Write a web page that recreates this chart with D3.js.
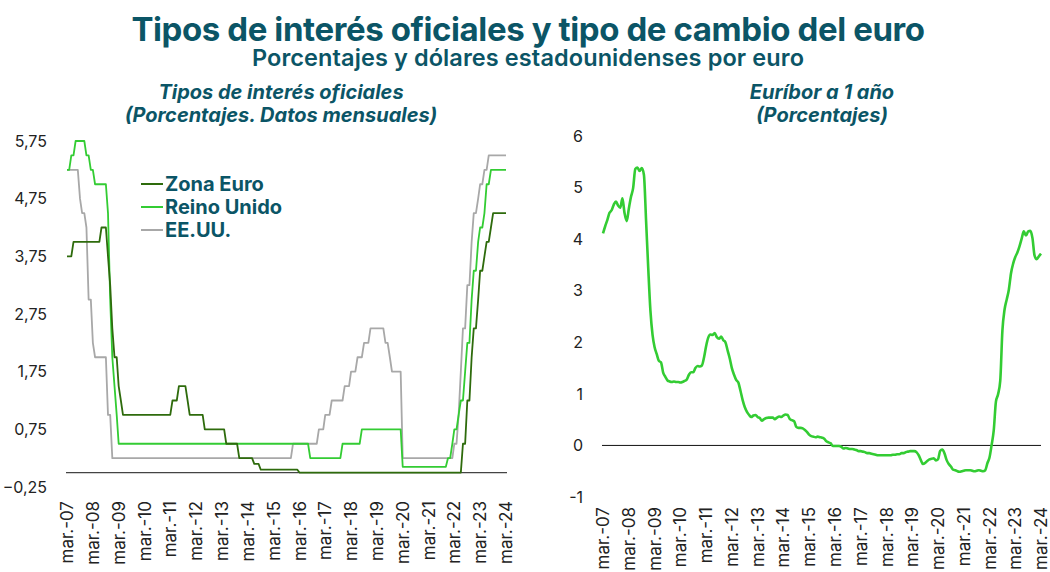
<!DOCTYPE html>
<html>
<head>
<meta charset="utf-8">
<script src="https://cdn.jsdelivr.net/npm/d3@7"></script>
<style>
  body { margin: 0; background: #fff; }
  text { font-family: Inter, "Noto Sans", sans-serif; }
</style>
</head>
<body>
<svg id="chart"></svg>
<script>
// monthly values, mar-07 .. mar-24 (end of month)
const zonaEuro = [
  3.75,3.75,3.75,4,4,4,4,4,4,4,
  4,4,4,4,4,4,4.25,4.25,4.25,3.75,3.25,2.5,
  2,2,1.5,1.25,1,1,1,1,1,1,1,1,
  1,1,1,1,1,1,1,1,1,1,1,1,
  1,1,1,1.25,1.25,1.25,1.5,1.5,1.5,1.5,1.25,1,
  1,1,1,1,1,1,0.75,0.75,0.75,0.75,0.75,0.75,
  0.75,0.75,0.75,0.75,0.5,0.5,0.5,0.5,0.5,0.5,0.25,0.25,
  0.25,0.25,0.25,0.25,0.25,0.15,0.15,0.15,0.05,0.05,0.05,0.05,
  0.05,0.05,0.05,0.05,0.05,0.05,0.05,0.05,0.05,0.05,0.05,0.05,
  0.05,0.05,0,0,0,0,0,0,0,0,0,0,
  0,0,0,0,0,0,0,0,0,0,0,0,
  0,0,0,0,0,0,0,0,0,0,0,0,
  0,0,0,0,0,0,0,0,0,0,0,0,
  0,0,0,0,0,0,0,0,0,0,0,0,
  0,0,0,0,0,0,0,0,0,0,0,0,
  0,0,0,0,0,0,0.5,0.5,1.25,1.25,2,2.5,
  2.5,3,3.5,3.5,3.75,4,4,4.25,4.5,4.5,4.5,4.5,
  4.5,4.5,4.5
];
const reinoUnido = [
  5.25,5.25,5.5,5.5,5.75,5.75,5.75,5.75,5.75,5.5,
  5.5,5.25,5.25,5,5,5,5,5,5,4.5,3,2,
  1.5,1,0.5,0.5,0.5,0.5,0.5,0.5,0.5,0.5,0.5,0.5,
  0.5,0.5,0.5,0.5,0.5,0.5,0.5,0.5,0.5,0.5,0.5,0.5,
  0.5,0.5,0.5,0.5,0.5,0.5,0.5,0.5,0.5,0.5,0.5,0.5,
  0.5,0.5,0.5,0.5,0.5,0.5,0.5,0.5,0.5,0.5,0.5,0.5,
  0.5,0.5,0.5,0.5,0.5,0.5,0.5,0.5,0.5,0.5,0.5,0.5,
  0.5,0.5,0.5,0.5,0.5,0.5,0.5,0.5,0.5,0.5,0.5,0.5,
  0.5,0.5,0.5,0.5,0.5,0.5,0.5,0.5,0.5,0.5,0.5,0.5,
  0.5,0.5,0.5,0.5,0.5,0.5,0.5,0.25,0.25,0.25,0.25,0.25,
  0.25,0.25,0.25,0.25,0.25,0.25,0.25,0.25,0.25,0.25,0.5,0.5,
  0.5,0.5,0.5,0.5,0.5,0.5,0.5,0.75,0.75,0.75,0.75,0.75,
  0.75,0.75,0.75,0.75,0.75,0.75,0.75,0.75,0.75,0.75,0.75,0.75,
  0.75,0.75,0.1,0.1,0.1,0.1,0.1,0.1,0.1,0.1,0.1,0.1,
  0.1,0.1,0.1,0.1,0.1,0.1,0.1,0.1,0.1,0.1,0.1,0.25,
  0.25,0.5,0.75,0.75,1,1.25,1.25,1.75,2.25,2.25,3,3.5,
  3.5,4,4.25,4.25,4.5,5,5,5.25,5.25,5.25,5.25,5.25,
  5.25,5.25,5.25
];
const eeuu = [
  5.25,5.25,5.25,5.25,5.25,5.25,4.75,4.5,4.5,4.25,
  3,3,2.25,2,2,2,2,2,2,1,1,0.25,
  0.25,0.25,0.25,0.25,0.25,0.25,0.25,0.25,0.25,0.25,0.25,0.25,
  0.25,0.25,0.25,0.25,0.25,0.25,0.25,0.25,0.25,0.25,0.25,0.25,
  0.25,0.25,0.25,0.25,0.25,0.25,0.25,0.25,0.25,0.25,0.25,0.25,
  0.25,0.25,0.25,0.25,0.25,0.25,0.25,0.25,0.25,0.25,0.25,0.25,
  0.25,0.25,0.25,0.25,0.25,0.25,0.25,0.25,0.25,0.25,0.25,0.25,
  0.25,0.25,0.25,0.25,0.25,0.25,0.25,0.25,0.25,0.25,0.25,0.25,
  0.25,0.25,0.25,0.25,0.25,0.25,0.25,0.25,0.25,0.25,0.25,0.5,
  0.5,0.5,0.5,0.5,0.5,0.5,0.5,0.5,0.5,0.5,0.5,0.75,
  0.75,0.75,1,1,1,1.25,1.25,1.25,1.25,1.25,1.25,1.5,
  1.5,1.5,1.75,1.75,1.75,2,2,2,2.25,2.25,2.25,2.5,
  2.5,2.5,2.5,2.5,2.5,2.5,2.25,2.25,2,1.75,1.75,1.75,
  1.75,1.75,0.25,0.25,0.25,0.25,0.25,0.25,0.25,0.25,0.25,0.25,
  0.25,0.25,0.25,0.25,0.25,0.25,0.25,0.25,0.25,0.25,0.25,0.25,
  0.25,0.25,0.5,0.5,1,1.75,2.5,2.5,3.25,3.25,4,4.5,
  4.5,4.75,5,5,5.25,5.25,5.5,5.5,5.5,5.5,5.5,5.5,
  5.5,5.5,5.5
];
const euribor = [
  4.11,4.25,4.37,4.51,4.56,4.67,4.73,4.65,4.61,4.79,
  4.50,4.35,4.59,4.82,4.99,5.36,5.39,5.32,5.38,5.25,4.35,3.45,
  2.62,2.14,1.91,1.77,1.64,1.61,1.41,1.33,1.26,1.24,1.23,1.24,
  1.23,1.23,1.22,1.23,1.25,1.28,1.37,1.42,1.42,1.50,1.54,1.53,
  1.55,1.71,1.92,2.09,2.15,2.14,2.18,2.10,2.07,2.11,2.04,2.00,
  1.84,1.68,1.50,1.37,1.27,1.22,1.06,0.88,0.74,0.65,0.59,0.55,
  0.58,0.59,0.55,0.53,0.48,0.51,0.53,0.54,0.54,0.54,0.51,0.54,
  0.56,0.55,0.58,0.60,0.59,0.51,0.49,0.47,0.36,0.34,0.34,0.33,
  0.30,0.26,0.21,0.18,0.17,0.16,0.17,0.16,0.15,0.13,0.08,0.06,
  0.04,-0.01,-0.01,-0.01,-0.01,-0.03,-0.06,-0.05,-0.06,-0.07,-0.07,-0.08,
  -0.09,-0.11,-0.11,-0.12,-0.13,-0.15,-0.15,-0.16,-0.17,-0.18,-0.19,-0.19,
  -0.19,-0.19,-0.19,-0.19,-0.19,-0.18,-0.18,-0.17,-0.17,-0.15,-0.15,-0.13,
  -0.12,-0.11,-0.11,-0.11,-0.13,-0.19,-0.28,-0.36,-0.34,-0.30,-0.27,-0.26,
  -0.25,-0.29,-0.27,-0.11,-0.08,-0.15,-0.28,-0.36,-0.41,-0.47,-0.48,-0.50,
  -0.51,-0.50,-0.49,-0.48,-0.48,-0.48,-0.49,-0.50,-0.49,-0.48,-0.49,-0.50,
  -0.48,-0.34,-0.24,0.01,0.29,0.85,0.99,1.25,2.23,2.63,2.83,3.02,
  3.34,3.53,3.65,3.74,3.86,4.01,4.15,4.07,4.15,4.16,4.02,3.68,
  3.61,3.67,3.72
];
const leftTicks = [-0.25, 0.75, 1.75, 2.75, 3.75, 4.75, 5.75];
const rightTicks = [-1, 0, 1, 2, 3, 4, 5, 6];
const tickYears = d3.range(2007, 2025);

const width = 1050;
const height = 572;
const teal = "#0b5566";
const start = new Date(2007, 2, 1);
const dates = zonaEuro.map((d, i) => d3.timeMonth.offset(start, i));
const tickDates = tickYears.map(y => new Date(y, 2, 1));
const fmt = d => "mar.-" + String(d.getFullYear()).slice(2);

const svg = d3.select("#chart")
  .attr("width", width)
  .attr("height", height);

// titles
svg.append("text")
  .attr("x", 528).attr("y", 41)
  .attr("text-anchor", "middle")
  .attr("font-size", 33).attr("font-weight", 700)
  .attr("letter-spacing", -0.4)
  .attr("fill", teal)
  .text("Tipos de interés oficiales y tipo de cambio del euro");
svg.append("text")
  .attr("x", 528).attr("y", 66)
  .attr("text-anchor", "middle")
  .attr("font-size", 23.5).attr("font-weight", 600)
  .attr("letter-spacing", 0.1)
  .attr("fill", teal)
  .text("Porcentajes y dólares estadounidenses por euro");

function panelTitle(cx, lines) {
  lines.forEach((t, i) => {
    svg.append("text")
      .attr("x", cx).attr("y", 99 + i * 23)
      .attr("text-anchor", "middle")
      .attr("font-size", 20).attr("font-weight", 700)
      .attr("font-style", "italic")
      .attr("fill", teal)
      .text(t);
  });
}
panelTitle(281, ["Tipos de interés oficiales", "(Porcentajes. Datos mensuales)"]);
panelTitle(822, ["Euríbor a 1 año", "(Porcentajes)"]);

// left chart
const xL = d3.scaleTime().domain([start, dates[dates.length - 1]]).range([67, 506]);
const yL = d3.scaleLinear().domain([-0.25, 5.75]).range([487, 141]);

const gL = svg.append("g");
gL.selectAll(".ylab").data(leftTicks).enter().append("text")
  .attr("x", 47).attr("y", d => yL(d)).attr("dy", "0.36em")
  .attr("text-anchor", "end")
  .attr("font-family", "'Liberation Sans', Arial, sans-serif")
  .attr("font-size", 16).attr("fill", "#222")
  .text(d => d3.format(".2f")(d).replace(".", ","));

gL.append("line")
  .attr("x1", 66).attr("x2", 507)
  .attr("y1", yL(0)).attr("y2", yL(0))
  .attr("stroke", "#444").attr("stroke-width", 1.2);

gL.selectAll(".xlab").data(tickDates).enter().append("text")
  .attr("transform", d => `translate(${xL(d)},501) rotate(-90)`)
  .attr("dy", "0.36em")
  .attr("text-anchor", "end")
  .attr("font-family", "'Liberation Sans', Arial, sans-serif")
  .attr("font-size", 17).attr("fill", "#222")
  .text(fmt);

const series = [
  { name: "Zona Euro", values: zonaEuro, color: "#2e6b0c" },
  { name: "Reino Unido", values: reinoUnido, color: "#33cc33" },
  { name: "EE.UU.", values: eeuu, color: "#a8a8a8" }
];
const lineL = d3.line().x((d, i) => xL(dates[i])).y(d => yL(d));
// draw grey first, euro on top
[series[2], series[1], series[0]].forEach(s => {
  gL.append("path")
    .datum(s.values)
    .attr("d", lineL)
    .attr("fill", "none")
    .attr("stroke", s.color)
    .attr("stroke-width", 1.8)
    .attr("stroke-linejoin", "round");
});

// legend
series.forEach((s, i) => {
  const y = 184 + i * 23;
  gL.append("line")
    .attr("x1", 141).attr("x2", 163).attr("y1", y).attr("y2", y)
    .attr("stroke", s.color).attr("stroke-width", 2);
  gL.append("text")
    .attr("x", 165).attr("y", y).attr("dy", "0.36em")
    .attr("font-size", 20).attr("font-weight", 700)
    .attr("fill", teal)
    .text(s.name);
});

// right chart
const xR = d3.scaleTime().domain([start, dates[dates.length - 1]]).range([603, 1041]);
const yR = d3.scaleLinear().domain([-1, 6]).range([497, 136]);

const gR = svg.append("g");
gR.selectAll(".ylab").data(rightTicks).enter().append("text")
  .attr("x", 583).attr("y", d => yR(d)).attr("dy", "0.36em")
  .attr("text-anchor", "end")
  .attr("font-family", "Roboto, sans-serif")
  .attr("font-size", 16).attr("fill", "#222")
  .text(d => d);

gR.append("line")
  .attr("x1", 602).attr("x2", 1041)
  .attr("y1", yR(0)).attr("y2", yR(0))
  .attr("stroke", "#111").attr("stroke-width", 1);

gR.selectAll(".xlab").data(tickDates).enter().append("text")
  .attr("transform", d => `translate(${xR(d)},507) rotate(-90)`)
  .attr("dy", "0.36em")
  .attr("text-anchor", "end")
  .attr("font-family", "Roboto, sans-serif")
  .attr("font-size", 17).attr("fill", "#222")
  .text(fmt);

gR.append("path")
  .datum(euribor)
  .attr("d", d3.line().x((d, i) => xR(dates[i])).y(d => yR(d)).curve(d3.curveMonotoneX))
  .attr("fill", "none")
  .attr("stroke", "#33cc33")
  .attr("stroke-width", 2.6)
  .attr("stroke-linejoin", "round");
</script>
</body>
</html>
